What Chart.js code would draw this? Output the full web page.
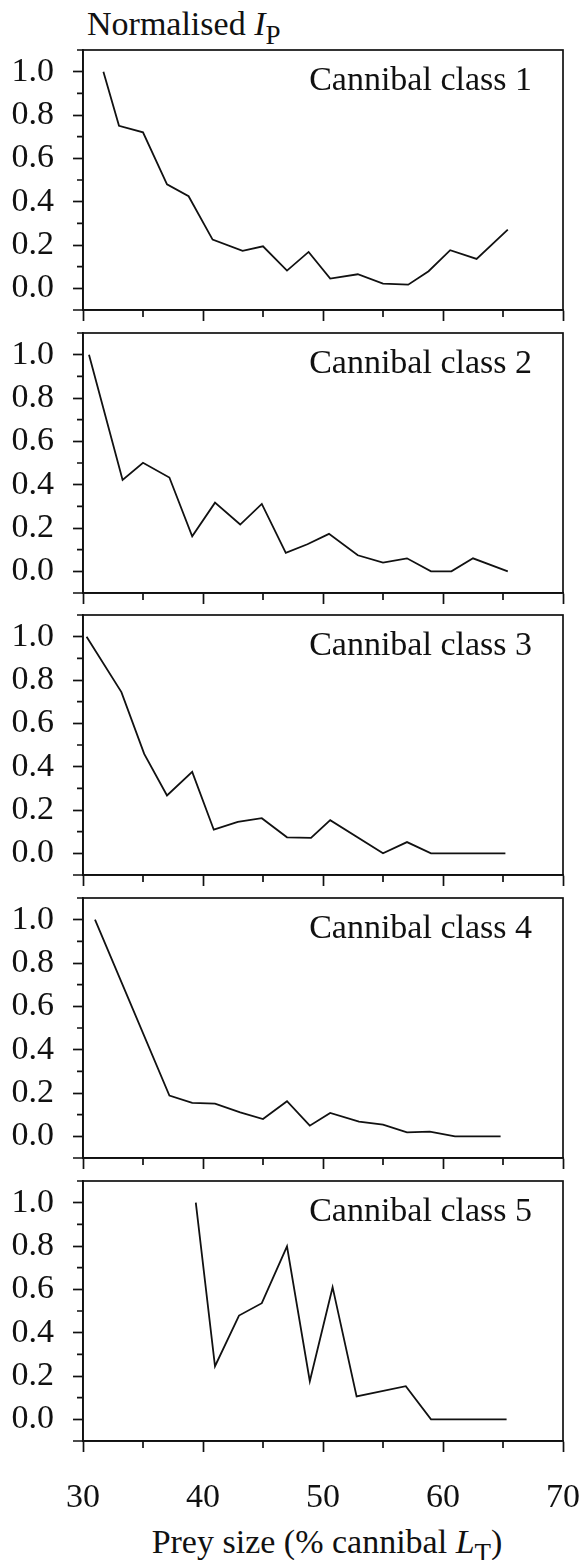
<!DOCTYPE html>
<html>
<head>
<meta charset="utf-8">
<script src="https://cdn.jsdelivr.net/npm/chart.js@4.4.1/dist/chart.umd.min.js"></script>
<style>
  body { margin: 0; width: 582px; height: 1560px; background: #fff; position: relative; overflow: hidden;
         font-family: "Liberation Serif", "Times New Roman", serif; color: #111; }
  .panel { position: absolute; left: 0; width: 582px; }
  .title { position: absolute; font-size: 34px; line-height: 34px; white-space: nowrap; }
  .title .sub { font-size: 27px; position: relative; top: 9px; }
</style>
</head>
<body>
<div class="title" id="ytitle" style="left:87px; top:7px;">Normalised <i>I</i><span class="sub">P</span></div>
<div class="title" id="xtitle" style="left:327px; top:1525px; transform:translateX(-50%);">Prey size (% cannibal <i>L</i><span class="sub">T</span>)</div>
<script>
// nombres de cada panel
const classNames = ['Cannibal class 1', 'Cannibal class 2', 'Cannibal class 3', 'Cannibal class 4', 'Cannibal class 5'];

// prey size (% cannibal LT) and normalised Ip, one pair of arrays per cannibal class
const prey1 = [31.7, 33.0, 35.0, 37.0, 38.8, 40.8, 43.3, 45.0, 47.0, 48.8, 50.6, 52.9, 55.0, 57.1, 58.8, 60.6, 62.8, 65.4];
const ip1   = [1.0, 0.75, 0.72, 0.48, 0.425, 0.225, 0.173, 0.194, 0.082, 0.168, 0.045, 0.065, 0.022, 0.017, 0.079, 0.176, 0.136, 0.271];

const prey2 = [30.5, 33.3, 35.0, 37.2, 39.1, 41.0, 43.1, 44.9, 46.9, 48.7, 50.5, 52.9, 55.0, 57.0, 59.0, 60.7, 62.5, 65.4];
const ip2   = [1.0, 0.422, 0.501, 0.433, 0.162, 0.317, 0.216, 0.311, 0.085, 0.125, 0.173, 0.074, 0.040, 0.060, 0.0, 0.0, 0.06, 0.0];

const prey3 = [30.3, 33.2, 35.1, 37.0, 39.1, 40.9, 42.9, 44.9, 47.0, 49.0, 50.6, 55.0, 57.0, 59.0, 61.0, 63.0, 65.2];
const ip3   = [1.0, 0.744, 0.459, 0.267, 0.376, 0.109, 0.145, 0.162, 0.074, 0.071, 0.153, 0.0, 0.052, 0.0, 0.0, 0.0, 0.0];

const prey4 = [31.0, 33.6, 37.2, 39.1, 41.0, 43.1, 45.0, 47.0, 48.9, 50.6, 53.0, 55.0, 57.0, 58.9, 61.0, 63.0, 64.8];
const ip4   = [1.0, 0.66, 0.188, 0.154, 0.151, 0.111, 0.08, 0.162, 0.049, 0.108, 0.068, 0.054, 0.018, 0.022, 0.0, 0.0, 0.0];

const prey5 = [39.4, 41.0, 43.0, 44.9, 47.0, 48.9, 50.8, 52.8, 56.9, 59.0, 61.0, 63.0, 65.3];
const ip5   = [1.0, 0.245, 0.479, 0.536, 0.798, 0.176, 0.610, 0.106, 0.153, 0.0, 0.0, 0.0, 0.0];

const preySizes = [prey1, prey2, prey3, prey4, prey5];
const ipValues = [ip1, ip2, ip3, ip4, ip5];

// etiquetas de los ejes
const yTickLabels = ['0.0', '0.2', '0.4', '0.6', '0.8', '1.0'];
const xTickLabels = ['30', '40', '50', '60', '70'];

// posicion de cada panel en la pagina
const panelTops = [50, 333, 615, 898, 1181];
const areaHeight = 260;
const padTop = 24;

Chart.defaults.font.family = '"Liberation Serif", "Times New Roman", serif';
Chart.defaults.font.size = 34;
Chart.defaults.color = '#111';

function yLabel(v) {
    const s = (Math.round(v * 10) / 10).toFixed(1);
    return yTickLabels.includes(s) ? s : '';
}
function xLabel(v) {
    const s = String(Math.round(v));
    return xTickLabels.includes(s) ? s : '';
}

// marco, ticks menores y el nombre de la clase
const framePlugin = {
    id: 'frame',
    afterDraw(chart, args, opts) {
        const {ctx, chartArea: a, scales} = chart;
        ctx.save();
        ctx.strokeStyle = '#111';
        ctx.lineWidth = 1.7;
        ctx.strokeRect(a.left, a.top, a.right - a.left, a.bottom - a.top);
        ctx.beginPath();
        scales.y.ticks.forEach(t => {
            if (yLabel(t.value) !== '') return;
            const y = scales.y.getPixelForValue(t.value);
            const len = t.value < -0.05 ? 10 : 6;
            ctx.moveTo(a.left - len, y);
            ctx.lineTo(a.left, y);
        });
        scales.x.ticks.forEach(t => {
            if (xLabel(t.value) !== '') return;
            const x = scales.x.getPixelForValue(t.value);
            ctx.moveTo(x, a.bottom);
            ctx.lineTo(x, a.bottom + 7);
        });
        ctx.stroke();
        ctx.font = '34px "Liberation Serif"';
        ctx.fillStyle = '#111';
        ctx.textAlign = 'right';
        ctx.textBaseline = 'alphabetic';
        ctx.fillText(opts.text, a.right - 31, a.top + 39.5);
        ctx.restore();
    }
};

function makePanel(i) {
    const last = i === 4;
    const xHeight = last ? 84 : 24;
    const div = document.createElement('div');
    div.className = 'panel';
    div.style.top = (panelTops[i] - padTop) + 'px';
    div.style.height = (padTop + areaHeight + xHeight) + 'px';
    const canvas = document.createElement('canvas');
    div.appendChild(canvas);
    document.body.appendChild(div);

    const points = preySizes[i].map((x, k) => ({x: x, y: ipValues[i][k]}));

    new Chart(canvas, {
        type: 'line',
        data: {
            datasets: [{
                data: points,
                borderColor: '#111',
                borderWidth: 1.8,
                pointRadius: 0,
                tension: 0,
                fill: false
            }]
        },
        options: {
            responsive: true,
            maintainAspectRatio: false,
            animation: false,
            events: [],
            layout: { padding: { top: padTop, right: 19, left: 0, bottom: 0 } },
            plugins: {
                legend: { display: false },
                tooltip: { enabled: false },
                frame: { text: classNames[i] }
            },
            scales: {
                x: {
                    type: 'linear',
                    min: 30,
                    max: 70,
                    // tamaño fijo para que todos los paneles queden alineados
                    afterFit: s => { s.height = xHeight; s.paddingLeft = 0; s.paddingRight = 0; },
                    border: { display: true, color: '#111', width: 1.7 },
                    grid: {
                        drawOnChartArea: false,
                        drawTicks: true,
                        tickLength: 11,
                        tickWidth: 1.7,
                        tickColor: c => xLabel(c.tick.value) !== '' ? '#111' : 'rgba(0,0,0,0)'
                    },
                    ticks: {
                        display: last,
                        stepSize: 5,
                        autoSkip: false,
                        maxRotation: 0,
                        padding: 26,
                        callback: v => xLabel(v)
                    }
                },
                y: {
                    min: -0.1,
                    max: 1.1,
                    afterFit: s => { s.width = 83; s.paddingTop = 0; s.paddingBottom = 0; },
                    border: { display: true, color: '#111', width: 1.7 },
                    grid: {
                        drawOnChartArea: false,
                        drawTicks: true,
                        tickLength: 10,
                        tickWidth: 1.7,
                        tickColor: c => yLabel(c.tick.value) !== '' ? '#111' : 'rgba(0,0,0,0)'
                    },
                    ticks: {
                        stepSize: 0.1,
                        autoSkip: false,
                        padding: 19,
                        callback: v => yLabel(v)
                    }
                }
            }
        },
        plugins: [framePlugin]
    });
}

for (let i = 0; i < 5; i++) {
    makePanel(i);
}
</script>
</body>
</html>
